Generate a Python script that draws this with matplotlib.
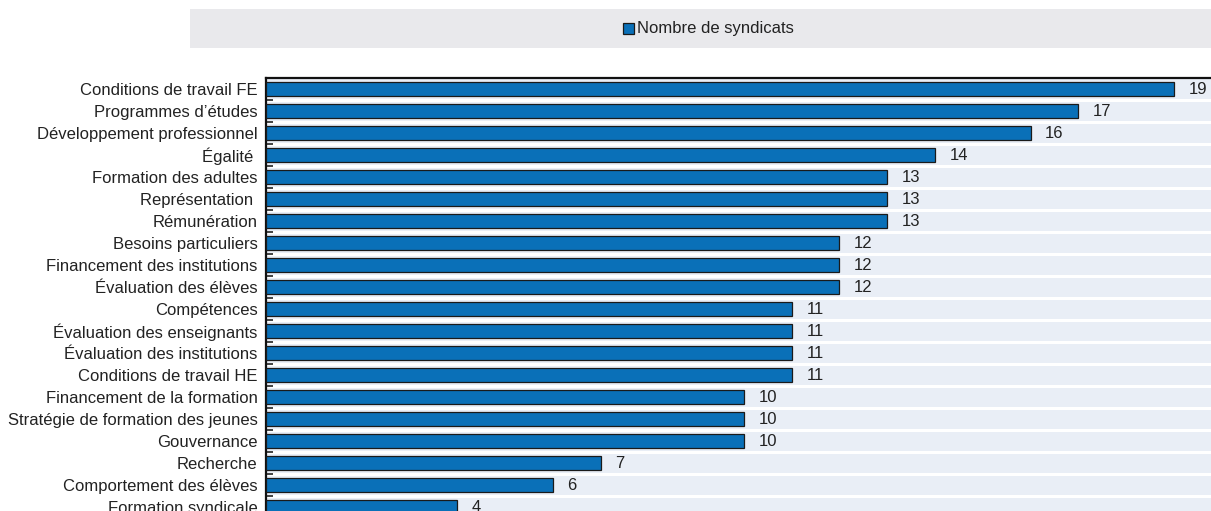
import matplotlib
matplotlib.use("Agg")
import matplotlib.pyplot as plt
from matplotlib import font_manager
from matplotlib.patches import Rectangle

categories = [
    "Conditions de travail FE",
    "Programmes d\u2019\u00e9tudes",
    "D\u00e9veloppement professionnel",
    "\u00c9galit\u00e9 ",
    "Formation des adultes",
    "Repr\u00e9sentation ",
    "R\u00e9mun\u00e9ration",
    "Besoins particuliers",
    "Financement des institutions",
    "\u00c9valuation des \u00e9l\u00e8ves",
    "Comp\u00e9tences",
    "\u00c9valuation des enseignants",
    "\u00c9valuation des institutions",
    "Conditions de travail HE",
    "Financement de la formation",
    "Strat\u00e9gie de formation des jeunes",
    "Gouvernance",
    "Recherche",
    "Comportement des \u00e9l\u00e8ves",
    "Formation syndicale",
]
values = [19, 17, 16, 14, 13, 13, 13, 12, 12, 12, 11, 11, 11, 11, 10, 10, 10, 7, 6, 4]
series_name = "Nombre de syndicats"

names = {f.name for f in font_manager.fontManager.ttflist}
family = "Liberation Sans Narrow" if "Liberation Sans Narrow" in names else "Liberation Sans"
plt.rcParams["font.family"] = [family, "DejaVu Sans"]

W, H = 1211, 511
fig = plt.figure(figsize=(W / 100, H / 100), dpi=100)

# legend band
fig.patches.append(Rectangle((190 / W, 1 - 48 / H), (W - 190) / W, 39 / H,
                             transform=fig.transFigure, facecolor="#E9E9EC",
                             edgecolor="none", zorder=0))
# axes: rows 22 px tall, the last row runs past the lower edge of the figure
n = len(categories)
row_px = 22
top_px = 78
ax_h = n * row_px
ax = fig.add_axes([266 / W, 1 - (top_px + ax_h) / H, (W - 266) / W, ax_h / H])
ax.set_facecolor("#E9EEF6")

bar_color = "#0A70B8"
pos = list(range(n))
ax.barh(pos, values, height=0.66, color=bar_color, edgecolor="#1a1a1a",
        linewidth=0.9, zorder=3)
ax.set_ylim(n - 0.5, -0.5)
ax.set_xlim(0, (W - 266) / (908 / 19))

# white separators between rows
for b in range(1, n):
    ax.axhline(b - 0.5, color="white", linewidth=2.2, zorder=1)

ax.set_yticks(pos)
ax.set_yticklabels(categories, fontsize=12, color="#222222")
ax.tick_params(axis="y", which="major", length=0, pad=6)
ax.set_yticks([b - 0.5 for b in range(1, n)], minor=True)
ax.tick_params(axis="y", which="minor", length=5, width=1.2, direction="in",
               color="#222222")
ax.set_xticks([])

for s in ["right", "bottom"]:
    ax.spines[s].set_visible(False)
ax.spines["left"].set_linewidth(1.6)
ax.spines["top"].set_linewidth(1.6)
ax.spines["left"].set_color("#111111")
ax.spines["top"].set_color("#111111")

for i, v in enumerate(values):
    ax.annotate(str(v), xy=(v, i), xytext=(10.5, 0), textcoords="offset points",
                ha="left", va="center", fontsize=12, color="#222222",
                annotation_clip=False)

# legend entry
fig.patches.append(Rectangle((623 / W, 1 - 34 / H), 11 / W, 11 / H,
                             transform=fig.transFigure, facecolor=bar_color,
                             edgecolor="#1a1a1a", linewidth=0.9, zorder=2))
fig.text(637 / W, 1 - 28.5 / H, series_name, ha="left", va="center",
         fontsize=12, color="#222222")

fig.savefig("out.png", dpi=100)
